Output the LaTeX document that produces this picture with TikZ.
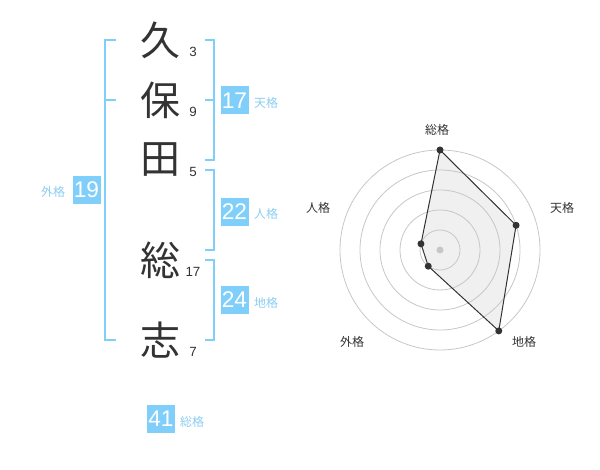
\documentclass[tikz,border=0pt]{standalone}
\usepackage{fontspec}
\setmainfont{Liberation Sans}
\newfontfamily\jp{Noto Sans CJK JP}
\usetikzlibrary{calc}
\definecolor{kakublue}{HTML}{80CFFA}
\definecolor{kakutext}{HTML}{8CCDF0}
\definecolor{inkgray}{HTML}{333333}
\tikzset{
	kanji/.style={text=inkgray, font=\jp\fontsize{30}{30}\selectfont, inner sep=0pt},
	strokes/.style={text=inkgray, font=\fontsize{10}{10}\selectfont, inner sep=0pt},
	kakubox/.style={fill=kakublue, text=white, minimum size=21pt, inner sep=0pt, font=\fontsize{17}{17}\selectfont},
	kakulabel/.style={text=kakutext, font=\jp\fontsize{9}{9}\selectfont, inner sep=0pt},
	bracket/.style={draw=kakublue, line width=1.5pt},
	ring/.style={draw=black!22, line width=0.6pt},
	axislabel/.style={text=inkgray, font=\jp\fontsize{9}{9}\selectfont, inner sep=0pt}
}

\begin{document}
\begin{tikzpicture}[x=0.75pt, y=-0.75pt]
			%%%%% START %%%%%
			\useasboundingbox (0, 0) rectangle (600, 470);
			
			\node[kanji] (ku) at (160, 40) {久};
			\node[kanji] (ho) at (160, 100) {保};
			\node[kanji] (ta) at (160, 160) {田};
			\node[kanji] (so) at (160, 260) {総};
			\node[kanji] (shi) at (160, 340) {志};
			
			\node[strokes] (n1) at (193, 52) {3};
			\node[strokes] (n2) at (193, 112) {9};
			\node[strokes] (n3) at (193, 172) {5};
			\node[strokes] (n4) at (193, 272) {17};
			\node[strokes] (n5) at (193, 352) {7};
			
			\draw[bracket] (116, 40) -- (105, 40) -- (105, 340) -- (116, 340);
			\draw[bracket] (105, 100) -- (116, 100);
			\node[kakubox] (gai) at (86.5, 190) {19};
			\node[kakulabel] (gail) at (53, 192) {外格};
			
			\draw[bracket] (205, 40) -- (214, 40) -- (214, 160) -- (205, 160);
			\draw[bracket] (205, 100) -- (214, 100);
			\node[kakubox] (ten) at (234.5, 100.5) {17};
			\node[kakulabel] (tenl) at (266, 103) {天格};
			
			\draw[bracket] (205, 170) -- (214, 170) -- (214, 250) -- (205, 250);
			\node[kakubox] (jin) at (234.5, 212) {22};
			\node[kakulabel] (jinl) at (266, 214) {人格};
			
			\draw[bracket] (205, 260) -- (214, 260) -- (214, 340) -- (205, 340);
			\node[kakubox] (chi) at (234.5, 300) {24};
			\node[kakulabel] (chil) at (266, 303) {地格};
			
			\node[kakubox] (sou) at (161, 419) {41};
			\node[kakulabel] (soul) at (192, 422) {総格};
			
			% radar
			\begin{scope}[shift={(440, 250)}, y=0.75pt]
				\foreach \ang/\val/\lx/\ly/\name [count=\i] in {90/5/-3/120/総格, 18/4/122/42/天格, -54/5/84/-92/地格, -126/1/-88/-92/外格, 162/1/-122/42/人格}{
					\coordinate (v\i) at (\ang:{\val*20});
					\node[axislabel] (l\i) at (\lx, \ly) {\name};
				}
				\fill[black!6] (v1) -- (v2) -- (v3) -- (v4) -- (v5) -- cycle;
				\foreach \r in {20, 40, ..., 100}
					\draw[ring] (0, 0) circle (\r);
				\draw[inkgray, line width=0.75pt] (v1) -- (v2) -- (v3) -- (v4) -- (v5) -- cycle;
				\fill[black!22] (0, 0) circle (3.5);
				\foreach \i in {1, ..., 5}
					\fill[inkgray] (v\i) circle (3.5);
			\end{scope}
			
			%%%%% END %%%%%
\end{tikzpicture}
\end{document}
